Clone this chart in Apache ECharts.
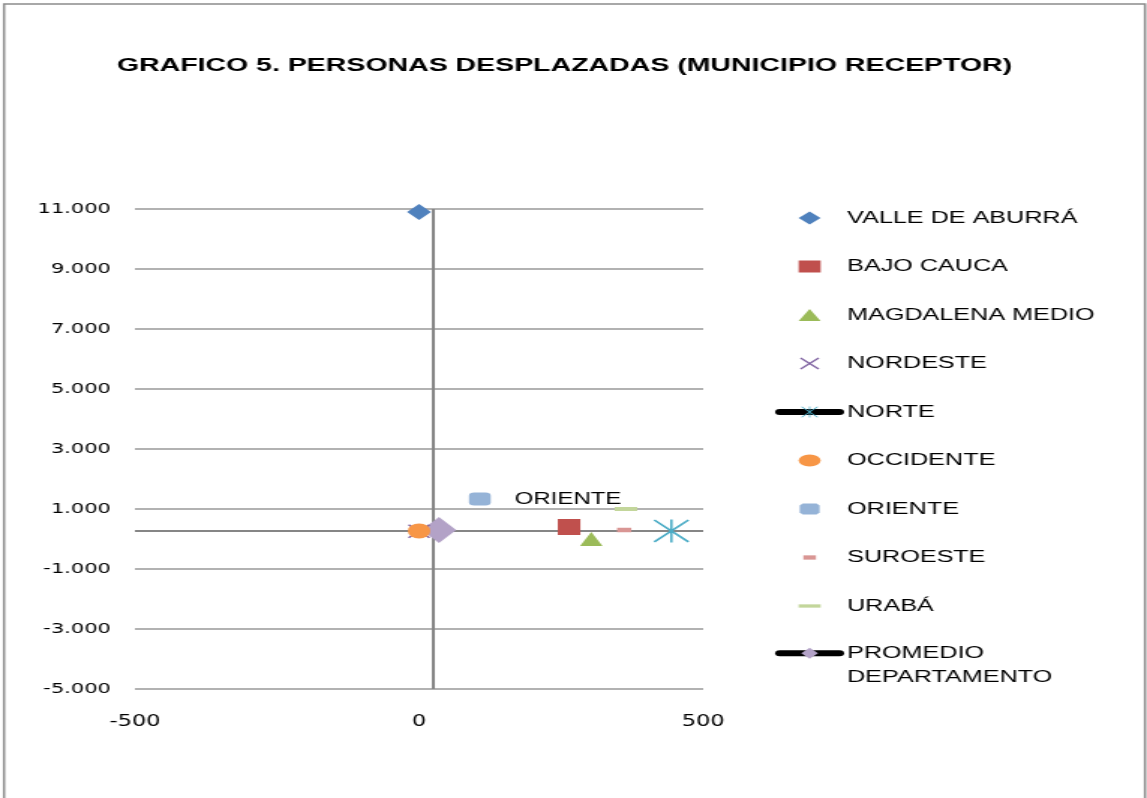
<!DOCTYPE html>
<html>
<head>
<meta charset="utf-8">
<title>Grafico 5 - Personas desplazadas</title>
<script src="https://cdn.jsdelivr.net/npm/echarts@6/dist/echarts.min.js"></script>
<style>
html,body{margin:0;padding:0;background:#fff;overflow:hidden;}
/* el grafico original esta estirado a lo ancho, se dibuja a 765px y se escala */
#chart{width:765px;height:798px;transform:scaleX(1.4993);transform-origin:0 0;}
</style>
</head>
<body>
<div id="chart"></div>
<script>
var regiones = ['VALLE DE ABURRÁ', 'BAJO CAUCA', 'MAGDALENA MEDIO', 'NORDESTE', 'NORTE',
                'OCCIDENTE', 'ORIENTE', 'SUROESTE', 'URABÁ', 'PROMEDIO DEPARTAMENTO'];
var valoresX = [0, 264, 303, 0, 444, 0, 107, 361, 364, 35];
var valoresY = [10900, 400, 0, 260, 270, 270, 1330, 300, 1000, 300];
var ejeX = {min: -500, max: 500, interval: 500};
var ejeY = {min: -5000, max: 11000, interval: 2000};
// donde se cruzan los ejes
var cruceX = 25, cruceY = 267;

var estrella = 'path://M0,1.2 L1.2,0 L24,21.8 L22.8,23 Z M22.8,0 L24,1.2 L1.2,23 L0,21.8 Z M11.2,0 L12.8,0 L12.8,23 L11.2,23 Z';
var equis = 'path://M0,1.4 L1.4,0 L20,18.6 L18.6,20 Z M18.6,0 L20,1.4 L1.4,20 L0,18.6 Z';

// iconos de leyenda dentro de una caja de 40x14 (las dos primeras M marcan la caja)
var caja = 'path://M0,0M40,14';
var iconos = [
    caja + 'M20,0.5L27.35,7L20,13.5L12.65,7Z',
    caja + 'M12.65,1H27.35V13H12.65Z',
    caja + 'M20,1L27.35,13H12.65Z',
    caja + 'M13.5,1.9L14.4,1L26.5,12.1L25.6,13Z M25.6,1L26.5,1.9L14.4,13L13.5,12.1Z',
    null,
    caja + 'M12.65,7A7.35,6,0,1,0,27.35,7A7.35,6,0,1,0,12.65,7Z',
    caja + 'M15.35,1.5H24.65L26.65,3.5V10.5L24.65,12.5H15.35L13.35,10.5V3.5Z',
    caja + 'M15.8,4.85H24.2V9.15H15.8Z',
    caja + 'M12.65,5.35H27.35V8.65H12.65Z',
    null
];

var estilos = [
    {symbol: 'diamond', size: [16, 16], color: '#4f81bd'},
    {symbol: 'rect', size: [15, 16], color: '#c0504d'},
    {symbol: 'triangle', size: [15, 14], color: '#9bbb59'},
    {symbol: equis, size: [15, 14], color: '#8064a2'},
    {symbol: estrella, size: [24, 23], color: '#4bacc6', linea: true},
    {symbol: 'circle', size: [15, 15], color: '#f79646'},
    {symbol: 'roundRect', size: [14.5, 13], color: '#95b3d7', etiqueta: true},
    {symbol: 'rect', size: [9.5, 4.5], color: '#d99694'},
    {symbol: 'rect', size: [15, 4], color: '#c3d69b'},
    {symbol: 'diamond', size: [23, 26], color: '#b3a2c7', linea: true}
];

function miles(v) {
    var s = Math.abs(v).toString().replace(/\B(?=(\d{3})+(?!\d))/g, '.');
    return (v < 0 ? '-' : '') + s;
}

var fuente = 'Liberation Sans';
var series = regiones.map(function (nombre, i) {
    var e = estilos[i];
    var s = {
        name: nombre,
        type: e.linea ? 'line' : 'scatter',
        data: [[valoresX[i], valoresY[i]]],
        symbol: e.symbol,
        symbolSize: e.size,
        itemStyle: {color: e.color, opacity: 1},
        emphasis: {disabled: true}
    };
    if (e.linea) {
        s.lineStyle = {color: '#000', width: 6, cap: 'round'};
        s.showSymbol = true;
    }
    if (e.etiqueta) {
        s.label = {
            show: true, position: 'right', distance: 16,
            formatter: '{a}', color: '#000', fontFamily: fuente, fontSize: 16
        };
    }
    return s;
});
// promedio debajo de los demas, con las lineas de los ejes
series[9].z = 1;
series[9].markLine = {
    silent: true, symbol: 'none', z: 0,
    label: {show: false},
    lineStyle: {color: '#868686', width: 2, type: 'solid'},
    data: [{xAxis: cruceX}, {yAxis: cruceY}]
};

var itemsLeyenda = regiones.slice(0, 9).map(function (nombre, i) {
    return iconos[i] ? {name: nombre, icon: iconos[i]} : {name: nombre};
});
var textoLeyenda = {fontFamily: fuente, fontSize: 16.8, color: '#000'};

var chart = echarts.init(document.getElementById('chart'));
chart.setOption({
    animation: false,
    backgroundColor: '#fff',
    title: {
        text: 'GRAFICO 5. PERSONAS DESPLAZADAS (MUNICIPIO RECEPTOR)',
        left: 371.5, top: 51, textAlign: 'center',
        textStyle: {fontFamily: fuente, fontWeight: 'bold', fontSize: 19, color: '#000'}
    },
    graphic: [{
        type: 'rect', shape: {x: 2.7, y: 4, width: 761, height: 820},
        style: {fill: null, stroke: '#8c8c8c', lineWidth: 1.5}, silent: true
    }],
    legend: [{
        data: itemsLeyenda,
        orient: 'vertical', left: 517, top: 208, padding: 0,
        itemWidth: 40, itemHeight: 14, itemGap: 28.5,
        selectedMode: false,
        lineStyle: {width: 6, cap: 'round'},
        textStyle: Object.assign({lineHeight: 20}, textoLeyenda)
    }, {
        data: regiones.slice(9),
        orient: 'vertical', left: 517, top: 616.5, padding: 0,
        itemWidth: 40, itemHeight: 14,
        selectedMode: false,
        lineStyle: {width: 6, cap: 'round'},
        // linea vacia arriba para que el icono quede frente a la primera linea
        formatter: function () { return '\nPROMEDIO\nDEPARTAMENTO'; },
        textStyle: Object.assign({lineHeight: 24.5}, textoLeyenda)
    }],
    grid: {left: 90, right: 296, top: 209, bottom: 109},
    xAxis: {
        type: 'value', min: ejeX.min, max: ejeX.max, interval: ejeX.interval,
        axisLine: {show: false}, axisTick: {show: false}, splitLine: {show: false},
        axisLabel: {color: '#000', fontFamily: 'DejaVu Sans', fontSize: 15, margin: 26, formatter: miles}
    },
    yAxis: {
        type: 'value', min: ejeY.min, max: ejeY.max, interval: ejeY.interval,
        axisLine: {show: false}, axisTick: {show: false},
        splitLine: {show: true, lineStyle: {color: '#999', width: 1.5}},
        axisLabel: {color: '#000', fontFamily: 'DejaVu Sans', fontSize: 14, margin: 16, formatter: miles}
    },
    series: series
});
</script>
</body>
</html>
